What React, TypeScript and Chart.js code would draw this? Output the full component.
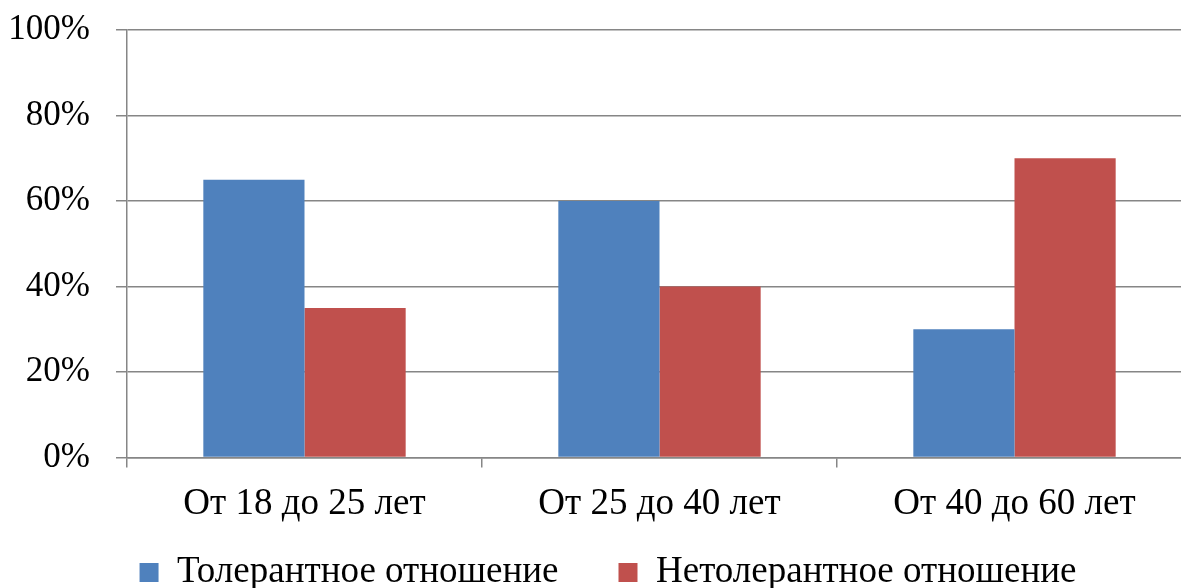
import React, { useEffect, useRef } from "react";
import { Chart, registerables } from "chart.js";

Chart.register(...registerables);

const categories = ["От 18 до 25 лет", "От 25 до 40 лет", "От 40 до 60 лет"];
const tolerant = [65, 60, 30];
const intolerant = [35, 40, 70];
const seriesNames = ["Толерантное отношение", "Нетолерантное отношение"];

const FONT = "'Liberation Serif', 'Times New Roman', serif";
const SHIFT = 17;

const legendPlace = {
  id: "legendPlace",
  afterLayout(chart: any) {
    const lg = chart.legend;
    if (!lg) return;
    const dy = 494 + SHIFT - lg.top;
    lg.top += dy;
    lg.bottom += dy;
    lg.left += 12;
    lg.right += 12;
  },
};

export default function App() {
  const ref = useRef<HTMLCanvasElement | null>(null);
  useEffect(() => {
    if (!ref.current) return;
    const chart = new Chart(ref.current, {
      type: "bar",
      data: {
        labels: categories,
        datasets: [
          { label: seriesNames[0], data: tolerant, backgroundColor: "#4F81BD", categoryPercentage: 0.57, barPercentage: 1 },
          { label: seriesNames[1], data: intolerant, backgroundColor: "#C0504D", categoryPercentage: 0.57, barPercentage: 1 },
        ],
      },
      options: {
        animation: false,
        responsive: true,
        maintainAspectRatio: false,
        layout: { padding: { top: 0, left: 0, right: 0, bottom: -59 } },
        plugins: {
          tooltip: { enabled: false },
          legend: {
            position: "bottom",
            labels: {
              font: { family: FONT, size: 37 },
              color: "#000",
              boxWidth: 19,
              boxHeight: 19,
              padding: 60,
            },
          },
        },
        scales: {
          y: {
            min: 0,
            max: 100,
            ticks: {
              stepSize: 20,
              callback: (v: any) => v + "%",
              font: { family: FONT, size: 35 },
              color: "#000",
              padding: 26,
            },
            grid: { color: "#868686", lineWidth: 1.5, tickLength: 11 },
            border: { color: "#868686", width: 1.5 },
            afterFit: (s: any) => { s.width = 127; },
          },
          x: {
            ticks: {
              font: { family: FONT, size: 37 },
              color: "#000",
              padding: 14,
            },
            grid: { drawOnChartArea: false, drawTicks: true, tickLength: 10, color: "#868686", lineWidth: 1.5, offset: true },
            border: { color: "#868686", width: 1.5 },
          },
        },
      },
      plugins: [legendPlace],
    });
    return () => chart.destroy();
  }, []);
  return (
    <div style={{ position: "fixed", left: 0, top: 0, width: 1181, height: 588, overflow: "hidden", background: "#fff" }}>
      <div style={{ width: 1192, height: 588 + SHIFT, position: "absolute", left: 0, top: -SHIFT }}>
        <canvas ref={ref} />
      </div>
    </div>
  );
}
